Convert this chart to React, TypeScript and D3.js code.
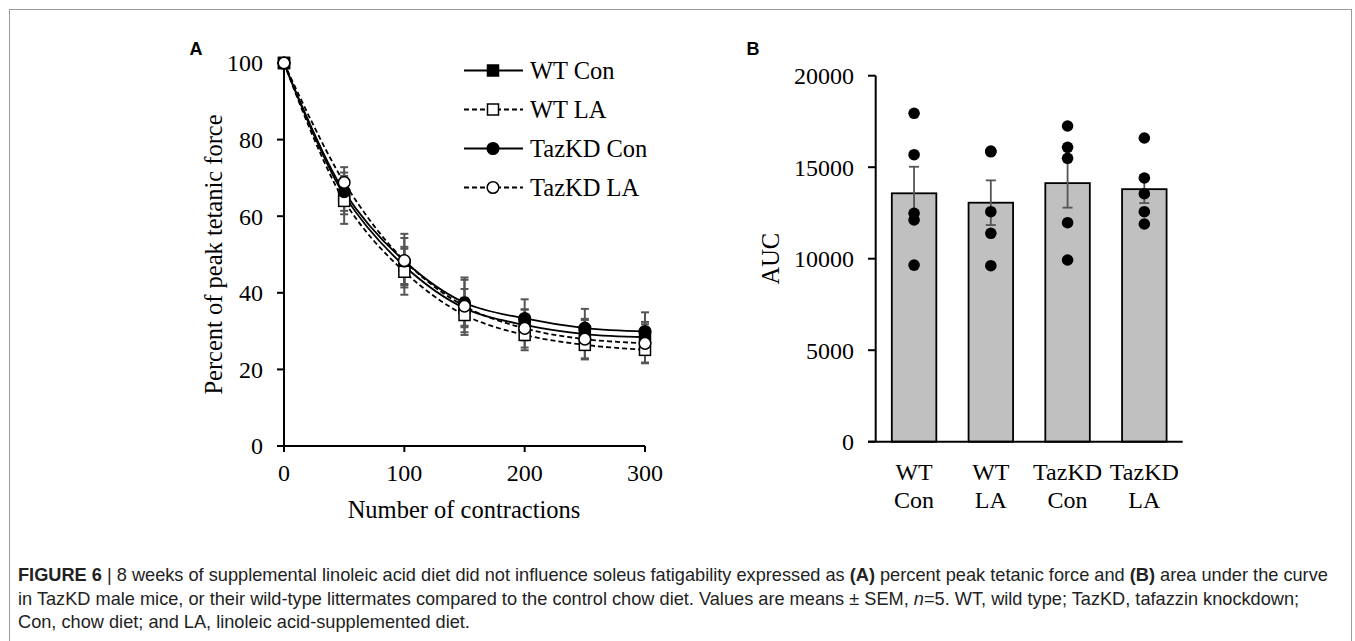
import * as d3 from "d3";

// ---- panel A data: percent of peak tetanic force ----
const CONTRACTIONS = [0, 50, 100, 150, 200, 250, 300];
const WT_CON = [100, 65.5, 47, 36, 31.6, 29.2, 28.4];
const WT_CON_SEM = [0, 5, 5, 5, 4, 4, 4];
const WT_LA = [100, 64, 45.5, 34.2, 29, 26.4, 25.1];
const WT_LA_SEM = [0, 6, 6, 4.5, 4, 3.8, 3.5];
const TAZ_CON = [100, 66.4, 48.3, 37.4, 33.3, 30.8, 29.9];
const TAZ_CON_SEM = [0, 5, 6, 6, 5, 5, 5];
const TAZ_LA = [100, 68.8, 48.4, 36.5, 30.7, 27.9, 26.8];
const TAZ_LA_SEM = [0, 4, 7, 7.5, 5, 5, 5];
const Y_TICKS_A = [0, 20, 40, 60, 80, 100];
const X_TICKS_A = [0, 100, 200, 300];

// ---- panel B data: area under the curve ----
const GROUPS = ["WT Con", "WT LA", "TazKD Con", "TazKD LA"];
const GROUP_LINES = [["WT", "Con"], ["WT", "LA"], ["TazKD", "Con"], ["TazKD", "LA"]];
const AUC_MEAN = [13574, 13060, 14130, 13800];
const AUC_SEM = [1450, 1220, 1340, 760];
const AUC_WT_CON = [17945, 15683, 12481, 12117, 9650];
const AUC_WT_LA = [15885, 15842, 12568, 11388, 9617];
const AUC_TAZ_CON = [17251, 16087, 15486, 11968, 9930];
const AUC_TAZ_LA = [16596, 14410, 13552, 12568, 11896];
const Y_TICKS_B = [0, 5000, 10000, 15000, 20000];

const SERIF = "'Liberation Serif', 'Times New Roman', serif";
const SANS = "'Liberation Sans', Arial, sans-serif";
const ERR = "#555555";

const series = [
  { name: "WT Con", values: WT_CON, sem: WT_CON_SEM, dashed: false, shape: "square", filled: true },
  { name: "WT LA", values: WT_LA, sem: WT_LA_SEM, dashed: true, shape: "square", filled: false },
  { name: "TazKD Con", values: TAZ_CON, sem: TAZ_CON_SEM, dashed: false, shape: "circle", filled: true },
  { name: "TazKD LA", values: TAZ_LA, sem: TAZ_LA_SEM, dashed: true, shape: "circle", filled: false },
];

const Marker = ({ x, y, shape, filled }: any) => {
  const fill = filled ? "#000" : "#fff";
  if (shape === "square") {
    return <rect x={x - 5.5} y={y - 5.5} width={11} height={11} fill={fill} stroke="#000" strokeWidth={1.5} />;
  }
  return <circle cx={x} cy={y} r={5.8} fill={fill} stroke="#000" strokeWidth={1.5} />;
};

const PanelA = () => {
  const xScale = d3.scaleLinear().domain([0, 300]).range([284, 645]);
  const yScale = d3.scaleLinear().domain([0, 100]).range([446, 63]);
  const line = d3
    .line<number>()
    .x((_, i) => xScale(CONTRACTIONS[i]))
    .y((d) => yScale(d))
    .curve(d3.curveCatmullRom.alpha(0.5));

  return (
    <g>
      <text x={196} y={54.5} fontFamily={SANS} fontWeight="bold" fontSize={18} textAnchor="middle">A</text>

      {/* axes */}
      <line x1={284} x2={284} y1={yScale(100)} y2={452} stroke="#000" strokeWidth={2} />
      <line x1={277} x2={645} y1={446} y2={446} stroke="#000" strokeWidth={2} />
      {Y_TICKS_A.map((t) => (
        <g key={t}>
          <line x1={277} x2={284} y1={yScale(t)} y2={yScale(t)} stroke="#000" strokeWidth={2} />
          <text x={263} y={yScale(t)} dy="0.35em" textAnchor="end" fontFamily={SERIF} fontSize={24}>{t}</text>
        </g>
      ))}
      {X_TICKS_A.map((t) => (
        <g key={t}>
          <line x1={xScale(t)} x2={xScale(t)} y1={446} y2={452} stroke="#000" strokeWidth={2} />
          <text x={xScale(t)} y={481} textAnchor="middle" fontFamily={SERIF} fontSize={24}>{t}</text>
        </g>
      ))}
      <text x={464} y={518} textAnchor="middle" fontFamily={SERIF} fontSize={24.5}>Number of contractions</text>
      <text
        transform={`translate(222,${(63 + 446) / 2}) rotate(-90)`}
        textAnchor="middle"
        fontFamily={SERIF}
        fontSize={24.5}
      >
        Percent of peak tetanic force
      </text>

      {/* lines */}
      {series.map((s) => (
        <path
          key={s.name}
          d={line(s.values) || ""}
          fill="none"
          stroke="#000"
          strokeWidth={1.8}
          strokeDasharray={s.dashed ? "5,3" : undefined}
        />
      ))}

      {/* error bars */}
      {series.map((s) => (
        <g key={s.name}>
          {s.values.map((v, i) =>
            s.sem[i] > 0 ? (
              <g key={i} stroke={ERR} strokeWidth={2}>
                <line x1={xScale(CONTRACTIONS[i])} x2={xScale(CONTRACTIONS[i])} y1={yScale(v - s.sem[i])} y2={yScale(v + s.sem[i])} />
                <line x1={xScale(CONTRACTIONS[i]) - 4} x2={xScale(CONTRACTIONS[i]) + 4} y1={yScale(v + s.sem[i])} y2={yScale(v + s.sem[i])} />
                <line x1={xScale(CONTRACTIONS[i]) - 4} x2={xScale(CONTRACTIONS[i]) + 4} y1={yScale(v - s.sem[i])} y2={yScale(v - s.sem[i])} />
              </g>
            ) : null
          )}
        </g>
      ))}

      {/* markers */}
      {series.map((s) => (
        <g key={s.name}>
          {s.values.map((v, i) => (
            <Marker key={i} x={xScale(CONTRACTIONS[i])} y={yScale(v)} shape={s.shape} filled={s.filled} />
          ))}
        </g>
      ))}

      {/* legend */}
      {series.map((s, i) => {
        const y = 70.5 + i * 39;
        return (
          <g key={s.name}>
            <line x1={464} x2={523} y1={y} y2={y} stroke="#000" strokeWidth={1.8} strokeDasharray={s.dashed ? "5,3" : undefined} />
            <Marker x={493} y={y} shape={s.shape} filled={s.filled} />
            <text x={530} y={y} dy="0.35em" fontFamily={SERIF} fontSize={24.5}>{s.name}</text>
          </g>
        );
      })}
    </g>
  );
};

const PanelB = () => {
  const xScale = d3.scaleBand().domain(GROUPS).range([875.7, 1182.7]).paddingInner(0.42).paddingOuter(0.21);
  const yScale = d3.scaleLinear().domain([0, 20000]).range([441.7, 75.7]);
  const points = [AUC_WT_CON, AUC_WT_LA, AUC_TAZ_CON, AUC_TAZ_LA];

  return (
    <g>
      <text x={753} y={54.5} fontFamily={SANS} fontWeight="bold" fontSize={18} textAnchor="middle">B</text>

      {/* bars */}
      {GROUPS.map((g, i) => (
        <rect
          key={g}
          x={xScale(g)}
          y={yScale(AUC_MEAN[i])}
          width={xScale.bandwidth()}
          height={yScale(0) - yScale(AUC_MEAN[i])}
          fill="#c0c0c0"
          stroke="#000"
          strokeWidth={1.8}
        />
      ))}

      {/* error bars */}
      {GROUPS.map((g, i) => {
        const cx = (xScale(g) || 0) + xScale.bandwidth() / 2;
        const hi = yScale(AUC_MEAN[i] + AUC_SEM[i]);
        const lo = yScale(AUC_MEAN[i] - AUC_SEM[i]);
        return (
          <g key={g} stroke={ERR} strokeWidth={1.8}>
            <line x1={cx} x2={cx} y1={lo} y2={hi} />
            <line x1={cx - 5} x2={cx + 5} y1={hi} y2={hi} />
            <line x1={cx - 5} x2={cx + 5} y1={lo} y2={lo} />
          </g>
        );
      })}

      {/* individual animals */}
      {GROUPS.map((g, i) => {
        const cx = (xScale(g) || 0) + xScale.bandwidth() / 2;
        return (
          <g key={g}>
            {points[i].map((v, j) => (
              <circle key={j} cx={cx} cy={yScale(v)} r={5.8} fill="#000" />
            ))}
          </g>
        );
      })}

      {/* axes */}
      <line x1={875.7} x2={875.7} y1={yScale(20000)} y2={yScale(0)} stroke="#000" strokeWidth={2} />
      <line x1={868} x2={1182.7} y1={yScale(0)} y2={yScale(0)} stroke="#000" strokeWidth={2} />
      {Y_TICKS_B.map((t) => (
        <g key={t}>
          <line x1={868} x2={875.7} y1={yScale(t)} y2={yScale(t)} stroke="#000" strokeWidth={2} />
          <text x={854} y={yScale(t)} dy="0.35em" textAnchor="end" fontFamily={SERIF} fontSize={24}>{t}</text>
        </g>
      ))}
      {GROUPS.map((g, i) => {
        const cx = (xScale(g) || 0) + xScale.bandwidth() / 2;
        return (
          <text key={g} textAnchor="middle" fontFamily={SERIF} fontSize={24}>
            <tspan x={cx} y={480}>{GROUP_LINES[i][0]}</tspan>
            <tspan x={cx} y={508}>{GROUP_LINES[i][1]}</tspan>
          </text>
        );
      })}
      <text
        transform={`translate(779,${(75.7 + 441.7) / 2}) rotate(-90)`}
        textAnchor="middle"
        fontFamily={SERIF}
        fontSize={24.5}
      >
        AUC
      </text>
    </g>
  );
};

const Caption = () => (
  <g fontFamily={SANS} fontSize={18.2} fill="#222">
    <text x={18} y={581}>
      <tspan fontWeight="bold">FIGURE 6</tspan>
      <tspan> | 8 weeks of supplemental linoleic acid diet did not influence soleus fatigability expressed as </tspan>
      <tspan fontWeight="bold">(A)</tspan>
      <tspan> percent peak tetanic force and </tspan>
      <tspan fontWeight="bold">(B)</tspan>
      <tspan> area under the curve</tspan>
    </text>
    <text x={18} y={604.5}>
      <tspan>in TazKD male mice, or their wild-type littermates compared to the control chow diet. Values are means ± SEM, </tspan>
      <tspan fontStyle="italic">n</tspan>
      <tspan>=5. WT, wild type; TazKD, tafazzin knockdown;</tspan>
    </text>
    <text x={18} y={628}>Con, chow diet; and LA, linoleic acid-supplemented diet.</text>
  </g>
);

export default function App() {
  return (
    <svg width={1355} height={641} style={{ position: "absolute", left: 0, top: 0, background: "#fff" }}>
      <rect x={9.5} y={9.5} width={1342} height={700} fill="#fff" stroke="#9a9a9a" strokeWidth={1} />
      <PanelA />
      <PanelB />
      <Caption />
    </svg>
  );
}
